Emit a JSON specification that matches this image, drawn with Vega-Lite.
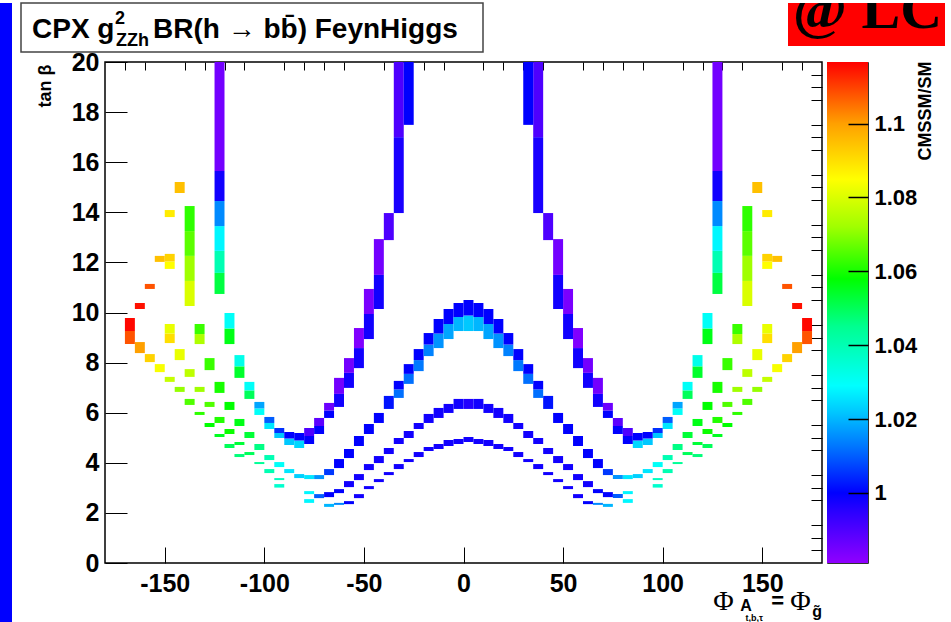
{
 "$schema": "https://vega.github.io/schema/vega-lite/v6.json",
 "background": "white",
 "padding": {"left": 0, "top": 2, "right": 0, "bottom": 0},
 "bounds": "flush",
 "spacing": 9,
 "config": {"font": "Liberation Sans", "view": {"stroke": null}},
 "hconcat": [
  {
   "width": 12, "height": 620,
   "view": {"fill": "#0000ff", "stroke": null},
   "data": {"values": [{"t": ""}]},
   "mark": {"type": "text"},
   "encoding": {"text": {"field": "t"}}
  },
  {
   "spacing": 10, "bounds": "flush",
   "vconcat": [
    {
     "width": 924, "height": 49,
     "layer": [
      {
       "data": {"values": [{"box": "title", "x0": 0, "x1": 462, "y0": 0, "y1": 49}]},
       "mark": {"type": "rect", "fill": "white", "stroke": "#444444", "strokeWidth": 1.5},
       "encoding": {
        "x": {"field": "x0", "type": "quantitative", "scale": {"domain": [0, 924], "nice": false, "zero": false}, "axis": null},
        "x2": {"field": "x1"},
        "y": {"field": "y0", "type": "quantitative", "scale": {"domain": [0, 49], "reverse": true, "nice": false, "zero": false}, "axis": null},
        "y2": {"field": "y1"}
       }
      },
      {
       "data": {"values": [{"box": "logo", "x0": 767, "x1": 924, "y0": 0, "y1": 43}]},
       "mark": {"type": "rect", "fill": "#ff0000"},
       "encoding": {
        "x": {"field": "x0", "type": "quantitative", "scale": {"domain": [0, 924], "nice": false, "zero": false}, "axis": null},
        "x2": {"field": "x1"},
        "y": {"field": "y0", "type": "quantitative", "scale": {"domain": [0, 49], "reverse": true, "nice": false, "zero": false}, "axis": null},
        "y2": {"field": "y1"}
       }
      },
      {
       "data": {"values": [{"px": 11, "py": 35, "s": "CPX g"}, {"px": 132, "py": 35, "s": "BR(h → bb\u0304) FeynHiggs"}]},
       "mark": {"type": "text", "fontSize": 28, "fontWeight": "bold", "align": "left", "baseline": "alphabetic", "color": "black"},
       "encoding": {
        "x": {"field": "px", "type": "quantitative", "scale": {"domain": [0, 924], "nice": false, "zero": false}, "axis": null},
        "y": {"field": "py", "type": "quantitative", "scale": {"domain": [0, 49], "reverse": true, "nice": false, "zero": false}, "axis": null},
        "text": {"field": "s"}
       }
      },
      {
       "data": {"values": [{"px": 94, "py": 21, "s": "2"}, {"px": 95, "py": 43, "s": "ZZh"}]},
       "mark": {"type": "text", "fontSize": 18, "fontWeight": "bold", "align": "left", "baseline": "alphabetic", "color": "black"},
       "encoding": {
        "x": {"field": "px", "type": "quantitative", "scale": {"domain": [0, 924], "nice": false, "zero": false}, "axis": null},
        "y": {"field": "py", "type": "quantitative", "scale": {"domain": [0, 49], "reverse": true, "nice": false, "zero": false}, "axis": null},
        "text": {"field": "s"}
       }
      },
      {
       "data": {"values": [{"px": 772, "py": 25, "s": "@ LC"}]},
       "mark": {"type": "text", "font": "Liberation Serif", "fontSize": 58, "fontWeight": "bold", "align": "left", "baseline": "alphabetic", "clip": true, "color": "black"},
       "encoding": {
        "x": {"field": "px", "type": "quantitative", "scale": {"domain": [0, 924], "nice": false, "zero": false}, "axis": null},
        "y": {"field": "py", "type": "quantitative", "scale": {"domain": [0, 49], "reverse": true, "nice": false, "zero": false}, "axis": null},
        "text": {"field": "s"}
       }
      }
     ]
    },
    {
     "spacing": 5, "bounds": "flush",
     "hconcat": [
      {
       "width": 79, "height": 501,
       "data": {"values": [{"t": ""}]},
       "mark": {"type": "text"},
       "encoding": {"text": {"field": "t"}}
      },
      {
       "width": 717, "height": 501,
       "view": {"stroke": "black", "strokeWidth": 1.5},
       "resolve": {"axis": {"x": "independent", "y": "independent"}},
       "layer": [
        {
         "data": {"values": [
{"phi":-125,"phi2":-120,"tb":10.74,"tb2":11.58,"r":1.052},
{"phi":-125,"phi2":-120,"tb":11.58,"tb2":12.46,"r":1.04},
{"phi":-125,"phi2":-120,"tb":12.46,"tb2":13.45,"r":1.028},
{"phi":-125,"phi2":-120,"tb":13.45,"tb2":14.45,"r":1.015},
{"phi":-125,"phi2":-120,"tb":14.45,"tb2":15.65,"r":0.998},
{"phi":-125,"phi2":-120,"tb":15.65,"tb2":20,"r":0.985},
{"phi":-140,"phi2":-135,"tb":10.26,"tb2":11.26,"r":1.08},
{"phi":-140,"phi2":-135,"tb":11.26,"tb2":12.26,"r":1.072},
{"phi":-140,"phi2":-135,"tb":12.26,"tb2":13.25,"r":1.066},
{"phi":-140,"phi2":-135,"tb":13.25,"tb2":14.25,"r":1.062},
{"phi":-145,"phi2":-140,"tb":14.77,"tb2":15.21,"r":1.095},
{"phi":-150,"phi2":-145,"tb":13.81,"tb2":14.09,"r":1.088},
{"phi":-155,"phi2":-150,"tb":12.02,"tb2":12.26,"r":1.095},
{"phi":-150,"phi2":-145,"tb":11.74,"tb2":12.04,"r":1.085},
{"phi":-150,"phi2":-145,"tb":12.04,"tb2":12.34,"r":1.092},
{"phi":-160,"phi2":-155,"tb":10.94,"tb2":11.14,"r":1.108},
{"phi":-165,"phi2":-160,"tb":10.14,"tb2":10.38,"r":1.115},
{"phi":-170,"phi2":-165,"tb":8.74,"tb2":9.26,"r":1.108},
{"phi":-170,"phi2":-165,"tb":9.26,"tb2":9.78,"r":1.116},
{"phi":-165,"phi2":-160,"tb":8.38,"tb2":8.82,"r":1.1},
{"phi":-160,"phi2":-155,"tb":8.02,"tb2":8.34,"r":1.092},
{"phi":-155,"phi2":-150,"tb":7.62,"tb2":7.94,"r":1.084},
{"phi":-150,"phi2":-145,"tb":7.23,"tb2":7.43,"r":1.077},
{"phi":-145,"phi2":-140,"tb":6.83,"tb2":7.03,"r":1.071},
{"phi":-140,"phi2":-135,"tb":6.31,"tb2":6.55,"r":1.065},
{"phi":-135,"phi2":-130,"tb":5.91,"tb2":6.03,"r":1.062},
{"phi":-130,"phi2":-125,"tb":5.43,"tb2":5.59,"r":1.058},
{"phi":-125,"phi2":-120,"tb":5.03,"tb2":5.15,"r":1.055},
{"phi":-120,"phi2":-115,"tb":4.59,"tb2":4.75,"r":1.05},
{"phi":-115,"phi2":-110,"tb":4.23,"tb2":4.35,"r":1.047},
{"phi":-105,"phi2":-100,"tb":3.95,"tb2":4.03,"r":1.044},
{"phi":-100,"phi2":-95,"tb":3.59,"tb2":3.75,"r":1.04},
{"phi":-95,"phi2":-90,"tb":3.31,"tb2":3.39,"r":1.038},
{"phi":-95,"phi2":-90,"tb":3.01,"tb2":3.15,"r":1.036},
{"phi":-150,"phi2":-145,"tb":8.78,"tb2":9.16,"r":1.09},
{"phi":-150,"phi2":-145,"tb":9.16,"tb2":9.54,"r":1.082},
{"phi":-145,"phi2":-140,"tb":8.10,"tb2":8.54,"r":1.082},
{"phi":-140,"phi2":-135,"tb":7.43,"tb2":7.74,"r":1.076},
{"phi":-135,"phi2":-130,"tb":6.83,"tb2":7.03,"r":1.072},
{"phi":-130,"phi2":-125,"tb":6.23,"tb2":6.43,"r":1.065},
{"phi":-125,"phi2":-120,"tb":5.59,"tb2":5.83,"r":1.061},
{"phi":-120,"phi2":-115,"tb":5.15,"tb2":5.35,"r":1.059},
{"phi":-115,"phi2":-110,"tb":4.71,"tb2":4.83,"r":1.053},
{"phi":-110,"phi2":-105,"tb":4.31,"tb2":4.43,"r":1.05},
{"phi":-135,"phi2":-130,"tb":8.74,"tb2":9.14,"r":1.074},
{"phi":-135,"phi2":-130,"tb":9.14,"tb2":9.54,"r":1.063},
{"phi":-130,"phi2":-125,"tb":7.70,"tb2":8.18,"r":1.063},
{"phi":-125,"phi2":-120,"tb":6.79,"tb2":7.23,"r":1.06},
{"phi":-120,"phi2":-115,"tb":6.11,"tb2":6.43,"r":1.058},
{"phi":-115,"phi2":-110,"tb":5.47,"tb2":5.75,"r":1.056},
{"phi":-110,"phi2":-105,"tb":4.99,"tb2":5.23,"r":1.053},
{"phi":-105,"phi2":-100,"tb":4.51,"tb2":4.75,"r":1.046},
{"phi":-100,"phi2":-95,"tb":4.11,"tb2":4.31,"r":1.04},
{"phi":-95,"phi2":-90,"tb":3.83,"tb2":4.03,"r":1.03},
{"phi":-90,"phi2":-85,"tb":3.59,"tb2":3.75,"r":1.026},
{"phi":-85,"phi2":-80,"tb":3.39,"tb2":3.55,"r":1.023},
{"phi":-120,"phi2":-115,"tb":8.74,"tb2":9.36,"r":1.056},
{"phi":-120,"phi2":-115,"tb":9.36,"tb2":9.98,"r":1.03},
{"phi":-115,"phi2":-110,"tb":7.39,"tb2":7.85,"r":1.054},
{"phi":-115,"phi2":-110,"tb":7.85,"tb2":8.30,"r":1.032},
{"phi":-110,"phi2":-105,"tb":6.55,"tb2":6.89,"r":1.05},
{"phi":-110,"phi2":-105,"tb":6.89,"tb2":7.23,"r":1.03},
{"phi":-105,"phi2":-100,"tb":5.91,"tb2":6.17,"r":1.03},
{"phi":-105,"phi2":-100,"tb":6.17,"tb2":6.43,"r":1.018},
{"phi":-100,"phi2":-95,"tb":5.35,"tb2":5.59,"r":1.026},
{"phi":-100,"phi2":-95,"tb":5.59,"tb2":5.83,"r":1.01},
{"phi":-95,"phi2":-90,"tb":4.99,"tb2":5.19,"r":1.022},
{"phi":-95,"phi2":-90,"tb":5.19,"tb2":5.39,"r":1.005},
{"phi":-90,"phi2":-85,"tb":4.71,"tb2":4.97,"r":1.022},
{"phi":-90,"phi2":-85,"tb":4.97,"tb2":5.23,"r":1.0},
{"phi":-85,"phi2":-80,"tb":4.59,"tb2":4.89,"r":1.024},
{"phi":-85,"phi2":-80,"tb":4.89,"tb2":5.19,"r":1.0},
{"phi":-80,"phi2":-75,"tb":4.75,"tb2":5.07,"r":1.0},
{"phi":-80,"phi2":-75,"tb":5.07,"tb2":5.39,"r":0.99},
{"phi":-75,"phi2":-70,"tb":5.15,"tb2":5.47,"r":1.0},
{"phi":-75,"phi2":-70,"tb":5.47,"tb2":5.79,"r":0.988},
{"phi":-70,"phi2":-65,"tb":5.79,"tb2":6.09,"r":1.0},
{"phi":-70,"phi2":-65,"tb":6.09,"tb2":6.39,"r":0.986},
{"phi":-65,"phi2":-60,"tb":6.23,"tb2":6.75,"r":0.998},
{"phi":-65,"phi2":-60,"tb":6.75,"tb2":7.39,"r":0.985},
{"phi":-60,"phi2":-55,"tb":6.99,"tb2":7.59,"r":0.998},
{"phi":-60,"phi2":-55,"tb":7.59,"tb2":8.18,"r":0.985},
{"phi":-55,"phi2":-50,"tb":7.78,"tb2":8.58,"r":0.998},
{"phi":-55,"phi2":-50,"tb":8.58,"tb2":9.38,"r":0.983},
{"phi":-50,"phi2":-45,"tb":8.94,"tb2":9.94,"r":0.998},
{"phi":-50,"phi2":-45,"tb":9.94,"tb2":10.94,"r":0.984},
{"phi":-45,"phi2":-40,"tb":10.14,"tb2":11.5,"r":0.998},
{"phi":-45,"phi2":-40,"tb":11.5,"tb2":12.93,"r":0.985},
{"phi":-40,"phi2":-35,"tb":12.89,"tb2":13.97,"r":0.99},
{"phi":-35,"phi2":-30,"tb":13.97,"tb2":17.0,"r":0.997},
{"phi":-35,"phi2":-30,"tb":17.0,"tb2":20,"r":0.99},
{"phi":-30,"phi2":-25,"tb":17.49,"tb2":20,"r":1.0},
{"phi":-80,"phi2":-75,"tb":3.35,"tb2":3.51,"r":1.026},
{"phi":-75,"phi2":-70,"tb":3.35,"tb2":3.51,"r":1.016},
{"phi":-70,"phi2":-65,"tb":3.51,"tb2":3.75,"r":1.006},
{"phi":-65,"phi2":-60,"tb":3.79,"tb2":4.15,"r":1.0},
{"phi":-60,"phi2":-55,"tb":4.19,"tb2":4.55,"r":1.0},
{"phi":-55,"phi2":-50,"tb":4.67,"tb2":5.07,"r":1.0},
{"phi":-50,"phi2":-45,"tb":5.15,"tb2":5.55,"r":1.0},
{"phi":-45,"phi2":-40,"tb":5.59,"tb2":5.99,"r":1.0},
{"phi":-40,"phi2":-35,"tb":6.15,"tb2":6.67,"r":1.002},
{"phi":-35,"phi2":-30,"tb":6.59,"tb2":6.93,"r":1.012},
{"phi":-35,"phi2":-30,"tb":6.93,"tb2":7.27,"r":1.0},
{"phi":-30,"phi2":-25,"tb":7.15,"tb2":7.55,"r":1.012},
{"phi":-30,"phi2":-25,"tb":7.55,"tb2":7.94,"r":1.0},
{"phi":-25,"phi2":-20,"tb":7.66,"tb2":8.10,"r":1.013},
{"phi":-25,"phi2":-20,"tb":8.10,"tb2":8.54,"r":1.0},
{"phi":-20,"phi2":-15,"tb":8.26,"tb2":8.72,"r":1.014},
{"phi":-20,"phi2":-15,"tb":8.72,"tb2":9.18,"r":1.0},
{"phi":-15,"phi2":-10,"tb":8.58,"tb2":9.16,"r":1.016},
{"phi":-15,"phi2":-10,"tb":9.16,"tb2":9.74,"r":1.0},
{"phi":-10,"phi2":-5,"tb":8.94,"tb2":9.54,"r":1.018},
{"phi":-10,"phi2":-5,"tb":9.54,"tb2":10.14,"r":1.0},
{"phi":-5,"phi2":0,"tb":9.26,"tb2":9.82,"r":1.02},
{"phi":-5,"phi2":0,"tb":9.82,"tb2":10.38,"r":1.0},
{"phi":0,"phi2":5,"tb":9.26,"tb2":9.88,"r":1.022},
{"phi":0,"phi2":5,"tb":9.88,"tb2":10.5,"r":1.0},
{"phi":-80,"phi2":-75,"tb":2.75,"tb2":2.87,"r":1.028},
{"phi":-80,"phi2":-75,"tb":2.40,"tb2":2.55,"r":1.028},
{"phi":-75,"phi2":-70,"tb":2.59,"tb2":2.75,"r":1.01},
{"phi":-70,"phi2":-65,"tb":2.63,"tb2":2.83,"r":1.0},
{"phi":-65,"phi2":-60,"tb":2.79,"tb2":2.95,"r":1.0},
{"phi":-60,"phi2":-55,"tb":3.03,"tb2":3.27,"r":0.998},
{"phi":-55,"phi2":-50,"tb":3.31,"tb2":3.55,"r":0.998},
{"phi":-50,"phi2":-45,"tb":3.71,"tb2":3.95,"r":0.998},
{"phi":-45,"phi2":-40,"tb":3.99,"tb2":4.27,"r":0.998},
{"phi":-40,"phi2":-35,"tb":4.35,"tb2":4.59,"r":0.998},
{"phi":-35,"phi2":-30,"tb":4.75,"tb2":4.99,"r":0.998},
{"phi":-30,"phi2":-25,"tb":4.99,"tb2":5.27,"r":0.998},
{"phi":-25,"phi2":-20,"tb":5.35,"tb2":5.59,"r":0.998},
{"phi":-20,"phi2":-15,"tb":5.59,"tb2":5.95,"r":0.998},
{"phi":-15,"phi2":-10,"tb":5.79,"tb2":6.19,"r":0.998},
{"phi":-10,"phi2":-5,"tb":5.99,"tb2":6.35,"r":0.998},
{"phi":-5,"phi2":0,"tb":6.15,"tb2":6.55,"r":0.998},
{"phi":0,"phi2":5,"tb":6.15,"tb2":6.55,"r":0.996},
{"phi":-70,"phi2":-65,"tb":2.24,"tb2":2.36,"r":1.02},
{"phi":-65,"phi2":-60,"tb":2.32,"tb2":2.40,"r":1.015},
{"phi":-60,"phi2":-55,"tb":2.35,"tb2":2.47,"r":1.0},
{"phi":-55,"phi2":-50,"tb":2.59,"tb2":2.75,"r":0.998},
{"phi":-50,"phi2":-45,"tb":2.95,"tb2":3.07,"r":0.998},
{"phi":-45,"phi2":-40,"tb":3.23,"tb2":3.35,"r":0.998},
{"phi":-40,"phi2":-35,"tb":3.51,"tb2":3.63,"r":0.998},
{"phi":-35,"phi2":-30,"tb":3.75,"tb2":3.95,"r":0.998},
{"phi":-30,"phi2":-25,"tb":4.03,"tb2":4.15,"r":0.998},
{"phi":-25,"phi2":-20,"tb":4.23,"tb2":4.43,"r":0.998},
{"phi":-20,"phi2":-15,"tb":4.47,"tb2":4.63,"r":0.998},
{"phi":-15,"phi2":-10,"tb":4.55,"tb2":4.75,"r":0.998},
{"phi":-10,"phi2":-5,"tb":4.67,"tb2":4.91,"r":0.998},
{"phi":-5,"phi2":0,"tb":4.75,"tb2":4.95,"r":0.998},
{"phi":0,"phi2":5,"tb":4.83,"tb2":5.03,"r":0.998},
{"phi":125,"phi2":130,"tb":10.74,"tb2":11.58,"r":1.052},
{"phi":125,"phi2":130,"tb":11.58,"tb2":12.46,"r":1.04},
{"phi":125,"phi2":130,"tb":12.46,"tb2":13.45,"r":1.028},
{"phi":125,"phi2":130,"tb":13.45,"tb2":14.45,"r":1.015},
{"phi":125,"phi2":130,"tb":14.45,"tb2":15.65,"r":0.998},
{"phi":125,"phi2":130,"tb":15.65,"tb2":20,"r":0.985},
{"phi":140,"phi2":145,"tb":10.26,"tb2":11.26,"r":1.08},
{"phi":140,"phi2":145,"tb":11.26,"tb2":12.26,"r":1.072},
{"phi":140,"phi2":145,"tb":12.26,"tb2":13.25,"r":1.066},
{"phi":140,"phi2":145,"tb":13.25,"tb2":14.25,"r":1.062},
{"phi":145,"phi2":150,"tb":14.77,"tb2":15.21,"r":1.095},
{"phi":150,"phi2":155,"tb":13.81,"tb2":14.09,"r":1.088},
{"phi":155,"phi2":160,"tb":12.02,"tb2":12.26,"r":1.095},
{"phi":150,"phi2":155,"tb":11.74,"tb2":12.04,"r":1.085},
{"phi":150,"phi2":155,"tb":12.04,"tb2":12.34,"r":1.092},
{"phi":160,"phi2":165,"tb":10.94,"tb2":11.14,"r":1.108},
{"phi":165,"phi2":170,"tb":10.14,"tb2":10.38,"r":1.115},
{"phi":170,"phi2":175,"tb":8.74,"tb2":9.26,"r":1.108},
{"phi":170,"phi2":175,"tb":9.26,"tb2":9.78,"r":1.116},
{"phi":165,"phi2":170,"tb":8.38,"tb2":8.82,"r":1.1},
{"phi":160,"phi2":165,"tb":8.02,"tb2":8.34,"r":1.092},
{"phi":155,"phi2":160,"tb":7.62,"tb2":7.94,"r":1.084},
{"phi":150,"phi2":155,"tb":7.23,"tb2":7.43,"r":1.077},
{"phi":145,"phi2":150,"tb":6.83,"tb2":7.03,"r":1.071},
{"phi":140,"phi2":145,"tb":6.31,"tb2":6.55,"r":1.065},
{"phi":135,"phi2":140,"tb":5.91,"tb2":6.03,"r":1.062},
{"phi":130,"phi2":135,"tb":5.43,"tb2":5.59,"r":1.058},
{"phi":125,"phi2":130,"tb":5.03,"tb2":5.15,"r":1.055},
{"phi":120,"phi2":125,"tb":4.59,"tb2":4.75,"r":1.05},
{"phi":115,"phi2":120,"tb":4.23,"tb2":4.35,"r":1.047},
{"phi":105,"phi2":110,"tb":3.95,"tb2":4.03,"r":1.044},
{"phi":100,"phi2":105,"tb":3.59,"tb2":3.75,"r":1.04},
{"phi":95,"phi2":100,"tb":3.31,"tb2":3.39,"r":1.038},
{"phi":95,"phi2":100,"tb":3.01,"tb2":3.15,"r":1.036},
{"phi":150,"phi2":155,"tb":8.78,"tb2":9.16,"r":1.09},
{"phi":150,"phi2":155,"tb":9.16,"tb2":9.54,"r":1.082},
{"phi":145,"phi2":150,"tb":8.10,"tb2":8.54,"r":1.082},
{"phi":140,"phi2":145,"tb":7.43,"tb2":7.74,"r":1.076},
{"phi":135,"phi2":140,"tb":6.83,"tb2":7.03,"r":1.072},
{"phi":130,"phi2":135,"tb":6.23,"tb2":6.43,"r":1.065},
{"phi":125,"phi2":130,"tb":5.59,"tb2":5.83,"r":1.061},
{"phi":120,"phi2":125,"tb":5.15,"tb2":5.35,"r":1.059},
{"phi":115,"phi2":120,"tb":4.71,"tb2":4.83,"r":1.053},
{"phi":110,"phi2":115,"tb":4.31,"tb2":4.43,"r":1.05},
{"phi":135,"phi2":140,"tb":8.74,"tb2":9.14,"r":1.074},
{"phi":135,"phi2":140,"tb":9.14,"tb2":9.54,"r":1.063},
{"phi":130,"phi2":135,"tb":7.70,"tb2":8.18,"r":1.063},
{"phi":125,"phi2":130,"tb":6.79,"tb2":7.23,"r":1.06},
{"phi":120,"phi2":125,"tb":6.11,"tb2":6.43,"r":1.058},
{"phi":115,"phi2":120,"tb":5.47,"tb2":5.75,"r":1.056},
{"phi":110,"phi2":115,"tb":4.99,"tb2":5.23,"r":1.053},
{"phi":105,"phi2":110,"tb":4.51,"tb2":4.75,"r":1.046},
{"phi":100,"phi2":105,"tb":4.11,"tb2":4.31,"r":1.04},
{"phi":95,"phi2":100,"tb":3.83,"tb2":4.03,"r":1.03},
{"phi":90,"phi2":95,"tb":3.59,"tb2":3.75,"r":1.026},
{"phi":85,"phi2":90,"tb":3.39,"tb2":3.55,"r":1.023},
{"phi":120,"phi2":125,"tb":8.74,"tb2":9.36,"r":1.056},
{"phi":120,"phi2":125,"tb":9.36,"tb2":9.98,"r":1.03},
{"phi":115,"phi2":120,"tb":7.39,"tb2":7.85,"r":1.054},
{"phi":115,"phi2":120,"tb":7.85,"tb2":8.30,"r":1.032},
{"phi":110,"phi2":115,"tb":6.55,"tb2":6.89,"r":1.05},
{"phi":110,"phi2":115,"tb":6.89,"tb2":7.23,"r":1.03},
{"phi":105,"phi2":110,"tb":5.91,"tb2":6.17,"r":1.03},
{"phi":105,"phi2":110,"tb":6.17,"tb2":6.43,"r":1.018},
{"phi":100,"phi2":105,"tb":5.35,"tb2":5.59,"r":1.026},
{"phi":100,"phi2":105,"tb":5.59,"tb2":5.83,"r":1.01},
{"phi":95,"phi2":100,"tb":4.99,"tb2":5.19,"r":1.022},
{"phi":95,"phi2":100,"tb":5.19,"tb2":5.39,"r":1.005},
{"phi":90,"phi2":95,"tb":4.71,"tb2":4.97,"r":1.022},
{"phi":90,"phi2":95,"tb":4.97,"tb2":5.23,"r":1.0},
{"phi":85,"phi2":90,"tb":4.59,"tb2":4.89,"r":1.024},
{"phi":85,"phi2":90,"tb":4.89,"tb2":5.19,"r":1.0},
{"phi":80,"phi2":85,"tb":4.75,"tb2":5.07,"r":1.0},
{"phi":80,"phi2":85,"tb":5.07,"tb2":5.39,"r":0.99},
{"phi":75,"phi2":80,"tb":5.15,"tb2":5.47,"r":1.0},
{"phi":75,"phi2":80,"tb":5.47,"tb2":5.79,"r":0.988},
{"phi":70,"phi2":75,"tb":5.79,"tb2":6.09,"r":1.0},
{"phi":70,"phi2":75,"tb":6.09,"tb2":6.39,"r":0.986},
{"phi":65,"phi2":70,"tb":6.23,"tb2":6.75,"r":0.998},
{"phi":65,"phi2":70,"tb":6.75,"tb2":7.39,"r":0.985},
{"phi":60,"phi2":65,"tb":6.99,"tb2":7.59,"r":0.998},
{"phi":60,"phi2":65,"tb":7.59,"tb2":8.18,"r":0.985},
{"phi":55,"phi2":60,"tb":7.78,"tb2":8.58,"r":0.998},
{"phi":55,"phi2":60,"tb":8.58,"tb2":9.38,"r":0.983},
{"phi":50,"phi2":55,"tb":8.94,"tb2":9.94,"r":0.998},
{"phi":50,"phi2":55,"tb":9.94,"tb2":10.94,"r":0.984},
{"phi":45,"phi2":50,"tb":10.14,"tb2":11.5,"r":0.998},
{"phi":45,"phi2":50,"tb":11.5,"tb2":12.93,"r":0.985},
{"phi":40,"phi2":45,"tb":12.89,"tb2":13.97,"r":0.99},
{"phi":35,"phi2":40,"tb":13.97,"tb2":17.0,"r":0.997},
{"phi":35,"phi2":40,"tb":17.0,"tb2":20,"r":0.99},
{"phi":30,"phi2":35,"tb":17.49,"tb2":20,"r":1.0},
{"phi":80,"phi2":85,"tb":3.35,"tb2":3.51,"r":1.026},
{"phi":75,"phi2":80,"tb":3.35,"tb2":3.51,"r":1.016},
{"phi":70,"phi2":75,"tb":3.51,"tb2":3.75,"r":1.006},
{"phi":65,"phi2":70,"tb":3.79,"tb2":4.15,"r":1.0},
{"phi":60,"phi2":65,"tb":4.19,"tb2":4.55,"r":1.0},
{"phi":55,"phi2":60,"tb":4.67,"tb2":5.07,"r":1.0},
{"phi":50,"phi2":55,"tb":5.15,"tb2":5.55,"r":1.0},
{"phi":45,"phi2":50,"tb":5.59,"tb2":5.99,"r":1.0},
{"phi":40,"phi2":45,"tb":6.15,"tb2":6.67,"r":1.002},
{"phi":35,"phi2":40,"tb":6.59,"tb2":6.93,"r":1.012},
{"phi":35,"phi2":40,"tb":6.93,"tb2":7.27,"r":1.0},
{"phi":30,"phi2":35,"tb":7.15,"tb2":7.55,"r":1.012},
{"phi":30,"phi2":35,"tb":7.55,"tb2":7.94,"r":1.0},
{"phi":25,"phi2":30,"tb":7.66,"tb2":8.10,"r":1.013},
{"phi":25,"phi2":30,"tb":8.10,"tb2":8.54,"r":1.0},
{"phi":20,"phi2":25,"tb":8.26,"tb2":8.72,"r":1.014},
{"phi":20,"phi2":25,"tb":8.72,"tb2":9.18,"r":1.0},
{"phi":15,"phi2":20,"tb":8.58,"tb2":9.16,"r":1.016},
{"phi":15,"phi2":20,"tb":9.16,"tb2":9.74,"r":1.0},
{"phi":10,"phi2":15,"tb":8.94,"tb2":9.54,"r":1.018},
{"phi":10,"phi2":15,"tb":9.54,"tb2":10.14,"r":1.0},
{"phi":5,"phi2":10,"tb":9.26,"tb2":9.82,"r":1.02},
{"phi":5,"phi2":10,"tb":9.82,"tb2":10.38,"r":1.0},
{"phi":80,"phi2":85,"tb":2.75,"tb2":2.87,"r":1.028},
{"phi":80,"phi2":85,"tb":2.40,"tb2":2.55,"r":1.028},
{"phi":75,"phi2":80,"tb":2.59,"tb2":2.75,"r":1.01},
{"phi":70,"phi2":75,"tb":2.63,"tb2":2.83,"r":1.0},
{"phi":65,"phi2":70,"tb":2.79,"tb2":2.95,"r":1.0},
{"phi":60,"phi2":65,"tb":3.03,"tb2":3.27,"r":0.998},
{"phi":55,"phi2":60,"tb":3.31,"tb2":3.55,"r":0.998},
{"phi":50,"phi2":55,"tb":3.71,"tb2":3.95,"r":0.998},
{"phi":45,"phi2":50,"tb":3.99,"tb2":4.27,"r":0.998},
{"phi":40,"phi2":45,"tb":4.35,"tb2":4.59,"r":0.998},
{"phi":35,"phi2":40,"tb":4.75,"tb2":4.99,"r":0.998},
{"phi":30,"phi2":35,"tb":4.99,"tb2":5.27,"r":0.998},
{"phi":25,"phi2":30,"tb":5.35,"tb2":5.59,"r":0.998},
{"phi":20,"phi2":25,"tb":5.59,"tb2":5.95,"r":0.998},
{"phi":15,"phi2":20,"tb":5.79,"tb2":6.19,"r":0.998},
{"phi":10,"phi2":15,"tb":5.99,"tb2":6.35,"r":0.998},
{"phi":5,"phi2":10,"tb":6.15,"tb2":6.55,"r":0.998},
{"phi":70,"phi2":75,"tb":2.24,"tb2":2.36,"r":1.02},
{"phi":65,"phi2":70,"tb":2.32,"tb2":2.40,"r":1.015},
{"phi":60,"phi2":65,"tb":2.35,"tb2":2.47,"r":1.0},
{"phi":55,"phi2":60,"tb":2.59,"tb2":2.75,"r":0.998},
{"phi":50,"phi2":55,"tb":2.95,"tb2":3.07,"r":0.998},
{"phi":45,"phi2":50,"tb":3.23,"tb2":3.35,"r":0.998},
{"phi":40,"phi2":45,"tb":3.51,"tb2":3.63,"r":0.998},
{"phi":35,"phi2":40,"tb":3.75,"tb2":3.95,"r":0.998},
{"phi":30,"phi2":35,"tb":4.03,"tb2":4.15,"r":0.998},
{"phi":25,"phi2":30,"tb":4.23,"tb2":4.43,"r":0.998},
{"phi":20,"phi2":25,"tb":4.47,"tb2":4.63,"r":0.998},
{"phi":15,"phi2":20,"tb":4.55,"tb2":4.75,"r":0.998},
{"phi":10,"phi2":15,"tb":4.67,"tb2":4.91,"r":0.998},
{"phi":5,"phi2":10,"tb":4.75,"tb2":4.95,"r":0.998}
         ]},
         "mark": {"type": "rect"},
         "encoding": {
          "x": {"field": "phi", "type": "quantitative",
                "scale": {"domain": [-180, 180], "nice": false, "zero": false},
                "axis": {"title": null, "domain": false, "grid": false,
                         "values": [-150, -100, -50, 0, 50, 100, 150],
                         "labelExpr": "'' + datum.value",
                         "tickSize": -16, "tickColor": "black", "tickWidth": 1,
                         "labelPadding": 24, "labelBaseline": "top",
                         "labelFontSize": 25, "labelFontWeight": "bold", "labelColor": "black",
                         "labelOverlap": false, "labelFlush": false}},
          "x2": {"field": "phi2"},
          "y": {"field": "tb", "type": "quantitative",
                "scale": {"domain": [0, 20], "nice": false, "zero": false},
                "axis": {"title": "tan β", "domain": false, "grid": false,
                         "values": [0, 2, 4, 6, 8, 10, 12, 14, 16, 18, 20],
                         "labelExpr": "'' + datum.value",
                         "tickSize": -22, "tickColor": "black", "tickWidth": 1,
                         "labelPadding": 28,
                         "labelFontSize": 25, "labelFontWeight": "bold", "labelColor": "black",
                         "labelOverlap": false, "labelFlush": false,
                         "titleFontSize": 18, "titleFontWeight": "bold", "titleColor": "black",
                         "titleAngle": -90, "titleAlign": "right", "titleBaseline": "middle",
                         "titleX": -60, "titleY": 2}},
          "y2": {"field": "tb2"},
          "color": {"field": "r", "type": "quantitative",
                    "scale": {"domain": [0.981, 0.995, 1.0, 1.012, 1.022, 1.029, 1.045, 1.058, 1.072, 1.085, 1.1, 1.1167],
                              "range": ["#9000ff", "#2a00ff", "#0000ff", "#0070ff", "#00c8ff", "#00ffff", "#00ff90", "#00ff00", "#a0ff00", "#ffff00", "#ffa000", "#ff0000"],
                              "interpolate": "rgb"},
                    "legend": null}
         }
        },
        {
         "data": {"values": [{"phi": 130.5, "tb": -1.876, "s": "Φ"}, {"phi": 169.2, "tb": -1.876, "s": "Φ"}]},
         "mark": {"type": "text", "font": "Liberation Serif", "fontSize": 28, "align": "center", "baseline": "alphabetic", "color": "black"},
         "encoding": {
          "x": {"field": "phi", "type": "quantitative",
                "axis": {"title": null, "domain": false, "grid": false, "labels": false,
                         "values": [-170,-160,-140,-130,-120,-110,-90,-80,-70,-60,-40,-30,-20,-10,10,20,30,40,60,70,80,90,110,120,130,140,160,170],
                         "tickSize": -8, "tickColor": "black", "tickWidth": 1}},
          "y": {"field": "tb", "type": "quantitative",
                "axis": {"title": null, "domain": false, "grid": false, "labels": false,
                         "values": [0.5,1,1.5,2.5,3,3.5,4.5,5,5.5,6.5,7,7.5,8.5,9,9.5,10.5,11,11.5,12.5,13,13.5,14.5,15,15.5,16.5,17,17.5,18.5,19,19.5],
                         "tickSize": -11, "tickColor": "black", "tickWidth": 1}},
          "text": {"field": "s"}
         }
        },
        {
         "data": {"values": [{"phi": 157.7, "tb": -1.52, "s": "="}]},
         "mark": {"type": "text", "fontSize": 22, "fontWeight": "bold", "align": "center", "baseline": "middle", "color": "black"},
         "encoding": {"x": {"field": "phi", "type": "quantitative", "axis": null}, "y": {"field": "tb", "type": "quantitative", "axis": null}, "text": {"field": "s"}}
        },
        {
         "data": {"values": [{"phi": 141.8, "tb": -1.9, "s": "A"}, {"phi": 177.5, "tb": -2.16, "s": "g\u0303"}]},
         "mark": {"type": "text", "fontSize": 16, "fontWeight": "bold", "align": "center", "baseline": "alphabetic", "color": "black"},
         "encoding": {"x": {"field": "phi", "type": "quantitative", "axis": null}, "y": {"field": "tb", "type": "quantitative", "axis": null}, "text": {"field": "s"}}
        },
        {
         "data": {"values": [{"phi": 146.0, "tb": -2.3, "s": "t,b,τ"}]},
         "mark": {"type": "text", "fontSize": 9, "fontWeight": "bold", "align": "center", "baseline": "alphabetic", "color": "black"},
         "encoding": {"x": {"field": "phi", "type": "quantitative", "axis": null}, "y": {"field": "tb", "type": "quantitative", "axis": null}, "text": {"field": "s"}}
        }
       ]
      },
      {
       "width": 41, "height": 501,
       "view": {"stroke": "#333333", "strokeWidth": 1},
       "data": {"values": [{"lo": 0.981, "hi": 1.1167}]},
       "mark": {"type": "rect", "fill": {"gradient": "linear", "x1": 0, "y1": 1, "x2": 0, "y2": 0,
                "stops": [{"offset": 0, "color": "#9000ff"}, {"offset": 0.103, "color": "#2a00ff"}, {"offset": 0.14, "color": "#0000ff"}, {"offset": 0.228, "color": "#0070ff"}, {"offset": 0.302, "color": "#00c8ff"}, {"offset": 0.354, "color": "#00ffff"}, {"offset": 0.472, "color": "#00ff90"}, {"offset": 0.567, "color": "#00ff00"}, {"offset": 0.671, "color": "#a0ff00"}, {"offset": 0.766, "color": "#ffff00"}, {"offset": 0.877, "color": "#ffa000"}, {"offset": 1, "color": "#ff0000"}]}},
       "encoding": {
        "x": {"datum": 0, "type": "quantitative", "scale": {"domain": [0, 1]}, "axis": null},
        "x2": {"datum": 1},
        "y": {"field": "lo", "type": "quantitative", "scale": {"domain": [0.981, 1.1167], "nice": false, "zero": false},
              "axis": {"orient": "right", "values": [1, 1.02, 1.04, 1.06, 1.08, 1.1], "zindex": 1,
                       "labelExpr": "'' + round(datum.value * 100) / 100",
                       "tickSize": -20, "tickColor": "black", "tickWidth": 1.5,
                       "labelPadding": 26, "labelFontSize": 22, "labelFontWeight": "bold", "labelColor": "black",
                       "domain": false, "grid": false, "labelOverlap": false, "labelFlush": false,
                       "title": "CMSSM/SM", "titleFontSize": 18, "titleFontWeight": "bold", "titleColor": "black",
                       "titleAngle": -90, "titleAlign": "right", "titleBaseline": "middle", "titleX": 57, "titleY": -1}},
        "y2": {"field": "hi"}
       }
      }
     ]
    }
   ]
  }
 ]
}
